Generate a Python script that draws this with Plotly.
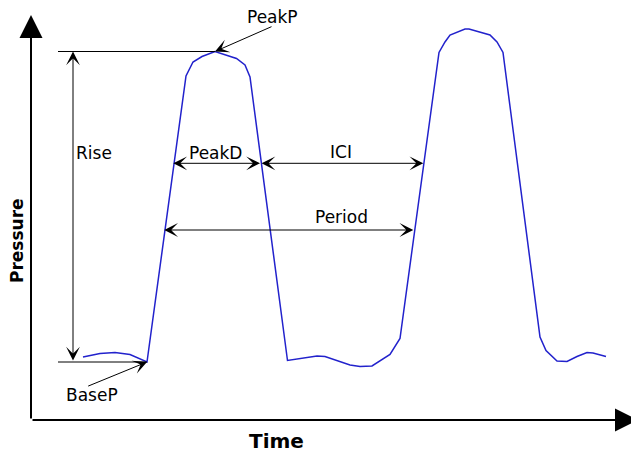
import plotly.graph_objects as go

# ---- data (time, pressure) of the schematic pressure trace ----
time = [83, 100, 115, 130, 147,
        186, 193, 202, 215, 236.5, 245, 250,
        287.5, 317, 325, 338, 350, 360, 372, 390, 400,
        439, 445, 450, 465, 469, 490, 497, 503,
        540, 546, 557, 567, 577, 587, 593, 606]
pressure = [95, 98.5, 99.5, 97.5, 90,
            376, 390, 395.5, 400.5, 393.5, 387, 375,
            91.5, 96, 95.5, 91, 87, 85.5, 86, 97.5, 113.5,
            399.5, 410, 417, 423, 423, 417, 410, 399.5,
            115, 101.5, 91, 90.5, 95.5, 99.5, 99, 95.5]

labels = ["PeakP", "BaseP", "Rise", "PeakD", "ICI", "Period"]
axis_titles = ["Time", "Pressure"]
level_peakd = 288.7     # pressure level where PeakD / ICI are measured
level_period = 222      # pressure level where Period is measured

FONT = "DejaVu Sans"
LINE = "#2222cc"
PAGE_MARGIN = 8         # browser body margin around the figure

# derived quantities
i_base = 4
base_t, base_p = time[i_base], pressure[i_base]
i_peak = max(range(12), key=lambda i: pressure[i])
peak_t, peak_p = time[i_peak], pressure[i_peak]


def crossings(level):
    out = []
    for i in range(len(time) - 1):
        p0, p1 = pressure[i], pressure[i + 1]
        if (p0 - level) * (p1 - level) < 0:
            out.append(time[i] + (level - p0) / (p1 - p0) * (time[i + 1] - time[i]))
    return out


cd = crossings(level_peakd)
cp = crossings(level_period)

fig = go.Figure()
fig.add_trace(go.Scatter(x=time, y=pressure, mode="lines",
                         line=dict(color=LINE, width=1.5), hoverinfo="skip"))

ann = []


def arrow(x0, y0, x1, y1, both=False, head=3, width=1, size=2.3):
    d = dict(x=x1, y=y1, ax=x0, ay=y0, xref="x", yref="y", axref="x", ayref="y",
             text="", showarrow=True, arrowhead=head, arrowwidth=width,
             arrowsize=size, arrowcolor="black", standoff=0, startstandoff=0)
    if both:
        d.update(arrowside="end+start", startarrowhead=head, startarrowsize=size)
    ann.append(d)


def label(x, y, t, size=17, bold=False, angle=0):
    ann.append(dict(x=x, y=y, xref="x", yref="y", text=f"<b>{t}</b>" if bold else t,
                    showarrow=False, textangle=angle,
                    font=dict(family=FONT, size=size, color="black"),
                    xanchor="center", yanchor="middle"))


# axes with arrowheads
origin_t, origin_p = 31, 32
arrow(origin_t, origin_p, origin_t, 437, head=2, width=2, size=2.3)
arrow(origin_t, origin_p, 638, origin_p, head=2, width=2, size=2.3)

# reference lines
shapes = [
    dict(type="line", x0=58, x1=peak_t, y0=peak_p, y1=peak_p, line=dict(color="black", width=1)),
    dict(type="line", x0=58, x1=base_t, y0=base_p, y1=base_p, line=dict(color="black", width=1)),
]

# Rise
arrow(73, base_p, 73, peak_p, both=True)
# PeakP pointer
arrow(273, 426, peak_t, peak_p)
# BaseP pointer
arrow(86.7, 65.3, base_t, base_p)
# PeakD, ICI, Period
arrow(cd[0] - 2.3, level_peakd, cd[1] - 1.4, level_peakd, both=True)
arrow(cd[1] - 1.4, level_peakd, cd[2] - 0.6, level_peakd, both=True)
arrow(cp[0] - 2.3, level_period, cp[2] - 1.5, level_period, both=True)

label(272, 435, labels[0])
label(92, 57, labels[1])
label(94, 299, labels[2])
label(215, 299, labels[3])
label(341, 300.5, labels[4])
label(341, 235.5, labels[5])
label(276, 11, axis_titles[0], size=20, bold=True)
label(17, 211, axis_titles[1], size=17, bold=True, angle=-90)

W, H = 639 - PAGE_MARGIN, 452 - PAGE_MARGIN
fig.update_layout(
    width=W, height=H, margin=dict(l=0, r=0, t=0, b=0),
    paper_bgcolor="white", plot_bgcolor="white", showlegend=False,
    xaxis=dict(range=[PAGE_MARGIN, 639], visible=False, fixedrange=True),
    yaxis=dict(range=[0, H], visible=False, fixedrange=True),
    annotations=ann, shapes=shapes,
)

fig.write_html("out.html")
